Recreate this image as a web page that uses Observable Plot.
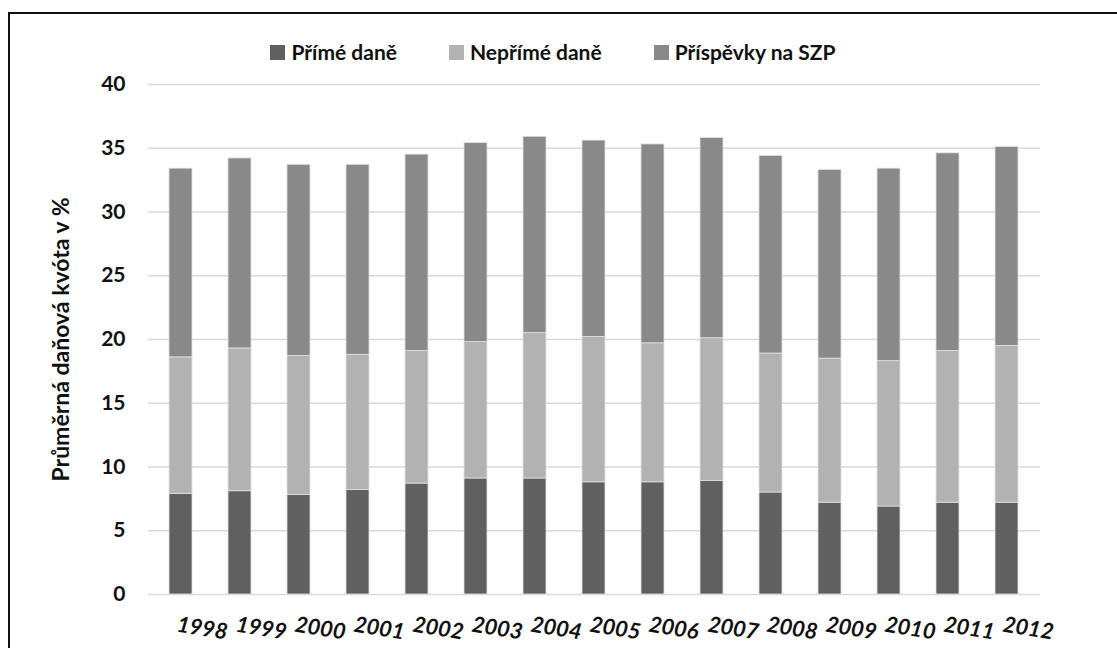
<!DOCTYPE html>
<html>
<head>
<meta charset="utf-8">
<script src="https://cdn.jsdelivr.net/npm/d3@7"></script>
<script src="https://cdn.jsdelivr.net/npm/@observablehq/plot@0.6"></script>
<style>
  html, body { margin: 0; padding: 0; background: #fff; overflow: hidden; }
  body { width: 1117px; height: 648px; position: relative; font-family: Lato, "Open Sans", sans-serif; }
  .frame { position: absolute; left: 8px; top: 12px; width: 1300px; height: 800px;
           border-left: 2px solid #111; border-top: 2px solid #111; pointer-events: none; }
  .legend { height: 70px; box-sizing: border-box; padding-top: 34px; padding-right: 11px;
            display: flex; justify-content: center; align-items: center; gap: 52px;
            font-weight: bold; font-size: 21px; color: #111; line-height: 26px; }
  .legend .item { display: flex; align-items: center; gap: 6px; }
  .legend .sw { width: 15px; height: 15px; display: inline-block; }
  svg { display: block; }
</style>
</head>
<body>
<div class="legend" id="legend"></div>
<div id="chart"></div>
<div class="frame"></div>
<script>
// Average tax quota (% of GDP) by component, 1998–2012
const years = ["1998","1999","2000","2001","2002","2003","2004","2005","2006","2007","2008","2009","2010","2011","2012"];
const seriesNames = ["Přímé daně", "Nepřímé daně", "Příspěvky na SZP"];
const directTaxes   = [7.9, 8.1, 7.8, 8.2, 8.7, 9.1, 9.1, 8.8, 8.8, 8.9, 8.0, 7.2, 6.9, 7.2, 7.2];
const indirectTaxes = [10.7, 11.2, 10.9, 10.6, 10.4, 10.7, 11.4, 11.4, 10.9, 11.2, 10.9, 11.3, 11.4, 11.9, 12.3];
const socialContrib = [14.8, 14.9, 15.0, 14.9, 15.4, 15.6, 15.4, 15.4, 15.6, 15.7, 15.5, 14.8, 15.1, 15.5, 15.6];
const seriesColors = ["#606060", "#b2b2b2", "#898989"];
const yTicks = [0, 5, 10, 15, 20, 25, 30, 35, 40];
const yTitle = "Průměrná daňová kvóta v %";

const seriesValues = [directTaxes, indirectTaxes, socialContrib];
const rows = seriesNames.flatMap((name, si) =>
  years.map((year, i) => ({ year, series: name, value: seriesValues[si][i] }))
);

// Legend above the chart
const legend = document.getElementById("legend");
seriesNames.forEach((name, i) => {
  const item = document.createElement("div");
  item.className = "item";
  const sw = document.createElement("span");
  sw.className = "sw";
  sw.style.background = seriesColors[i];
  const label = document.createElement("span");
  label.textContent = name;
  item.append(sw, label);
  legend.append(item);
});

const chart = Plot.plot({
  width: 1117,
  height: 578,
  marginTop: 14,
  marginBottom: 54,
  marginLeft: 148,
  marginRight: 77,
  style: { fontFamily: "Lato, 'Open Sans', sans-serif", fontSize: "21px", fontWeight: "bold", color: "#111", background: "transparent" },
  x: { domain: years, paddingInner: 0.61, paddingOuter: 0.305 },
  y: { domain: [0, 40] },
  color: { domain: seriesNames, range: seriesColors },
  marks: [
    Plot.gridY(yTicks, { stroke: "#d9d9d9", strokeOpacity: 1, strokeWidth: 1.6 }),
    Plot.barY(rows, { x: "year", y: "value", fill: "series", stroke: "#e2e2e2", strokeWidth: 0.8 }),
    Plot.axisY(yTicks, {
      tickSize: 0, tickPadding: 23, fontWeight: "bold", fontSize: 21,
      label: null
    }),
    Plot.axisY({
      ticks: [], tickSize: 0, fontWeight: "bold", fontSize: 23,
      label: yTitle, labelAnchor: "center", labelArrow: "none", labelOffset: 96
    }),
    Plot.axisX({
      tickSize: 0, tickPadding: 30, tickRotate: 9, fontStyle: "italic", fontWeight: "bold", fontSize: 22,
      textAnchor: "start", lineAnchor: "middle", dx: -4, label: null
    })
  ]
});
document.getElementById("chart").append(chart);
</script>
</body>
</html>
